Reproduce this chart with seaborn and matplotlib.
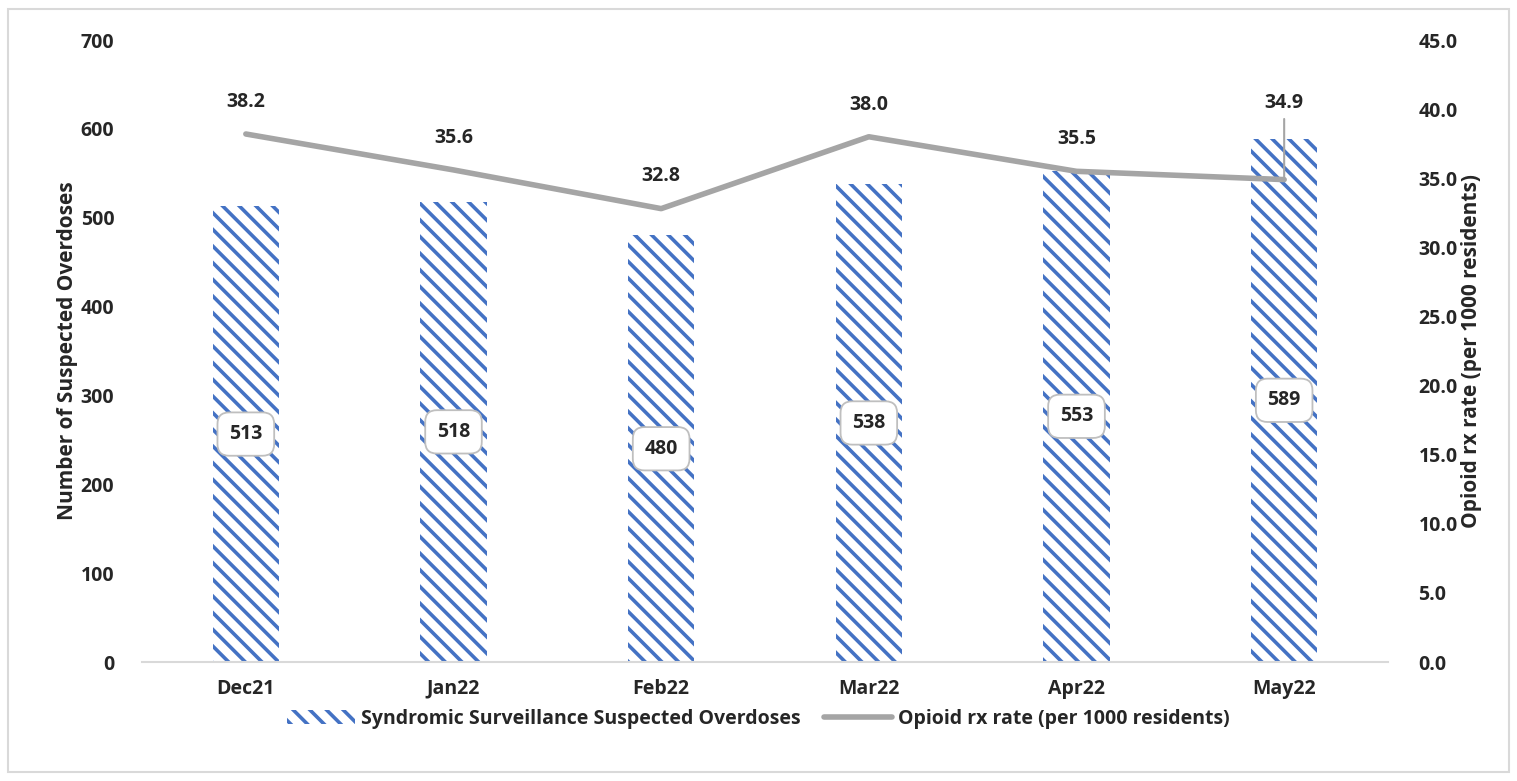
import matplotlib
matplotlib.use("Agg")
import matplotlib.pyplot as plt
import seaborn as sns
import pandas as pd
from matplotlib.patches import Patch, Rectangle
from matplotlib.lines import Line2D

months = ["Dec21", "Jan22", "Feb22", "Mar22", "Apr22", "May22"]
overdoses = [513, 518, 480, 538, 553, 589]
rx_rate = [38.2, 35.6, 32.8, 38.0, 35.5, 34.9]
bar_label = "Syndromic Surveillance Suspected Overdoses"
line_label = "Opioid rx rate (per 1000 residents)"

sns.set_theme(style="white")
plt.rcParams['font.family'] = ['Open Sans', 'DejaVu Sans']
plt.rcParams['font.weight'] = 'bold'
plt.rcParams['hatch.linewidth'] = 2.6

BLUE = "#4472C4"
GRAY = "#A5A5A5"
HATCH = "\\\\"

df = pd.DataFrame({"month": months, "overdoses": overdoses, "rate": rx_rate})

fig = plt.figure(figsize=(15.17, 7.81), dpi=100)
ax = fig.add_axes([142/1517, 1 - 662/781, 1246/1517, 622/781])

sns.barplot(data=df, x="month", y="overdoses", ax=ax, color="white",
            width=0.32, edgecolor=BLUE, linewidth=0, hatch=HATCH)
for p in ax.patches:
    p.set_hatch(HATCH)
    p.set_edgecolor(BLUE)
    p.set_linewidth(0)

ax.set_ylim(0, 700)
ax.set_yticks(range(0, 701, 100))
ax.set_xlim(-0.5, 5.5)
ax.set_xlabel("")
ax.set_ylabel("Number of Suspected Overdoses", fontsize=15, fontweight="bold", labelpad=2)
ax.tick_params(axis="y", labelsize=14, length=0, pad=20)
ax.tick_params(axis="x", labelsize=14, length=0, pad=12)
for t in ax.get_xticklabels() + ax.get_yticklabels():
    t.set_fontweight("bold")
for s in ["top", "right", "left"]:
    ax.spines[s].set_visible(False)
ax.spines["bottom"].set_color("#D9D9D9")
ax.spines["bottom"].set_linewidth(1.5)

for i, v in enumerate(overdoses):
    ax.text(i, v / 2, f"{v}", ha="center", va="center", fontsize=14, fontweight="bold",
            bbox=dict(boxstyle="round,pad=0.6,rounding_size=0.6", fc="white", ec="#BFBFBF", lw=1.3))

ax2 = ax.twinx()
sns.lineplot(x=list(range(len(months))), y=rx_rate, ax=ax2, color=GRAY, linewidth=4, sort=False)
ax2.set_ylim(0, 45)
ax2.set_yticks([i * 5 for i in range(10)])
ax2.set_yticklabels([f"{i*5:.1f}" for i in range(10)])
ax2.set_ylabel("Opioid rx rate (per 1000 residents)", fontsize=15, fontweight="bold", labelpad=2)
ax2.tick_params(axis="y", labelsize=14, length=0, pad=22)
for t in ax2.get_yticklabels():
    t.set_fontweight("bold")
for s in ["top", "right", "left", "bottom"]:
    ax2.spines[s].set_visible(False)

for i, v in enumerate(rx_rate):
    if i == len(rx_rate) - 1:
        ax2.annotate(f"{v:.1f}", xy=(i, v), xytext=(0, 48), textcoords="offset points",
                     ha="center", va="bottom", fontsize=14, fontweight="bold",
                     arrowprops=dict(arrowstyle="-", color=GRAY, lw=1.5, shrinkA=2, shrinkB=0))
    else:
        ax2.annotate(f"{v:.1f}", xy=(i, v), xytext=(0, 16), textcoords="offset points",
                     ha="center", va="bottom", fontsize=14, fontweight="bold")

handles = [Patch(facecolor="white", edgecolor=BLUE, hatch=HATCH, linewidth=0),
           Line2D([0], [0], color=GRAY, lw=4)]
fig.legend(handles, [bar_label, line_label], loc="center", bbox_to_anchor=(0.5, 1 - 719/781),
           ncol=2, frameon=False, prop=dict(size=14, weight="bold"), handlelength=3.5,
           columnspacing=1.2, handletextpad=0.3)

fig.patches.append(Rectangle((8/1517, 9/781), 1501/1517, 763/781, transform=fig.transFigure,
                             fill=False, ec="#D9D9D9", lw=1.5))

fig.savefig("out.png", dpi=100, facecolor="white")
